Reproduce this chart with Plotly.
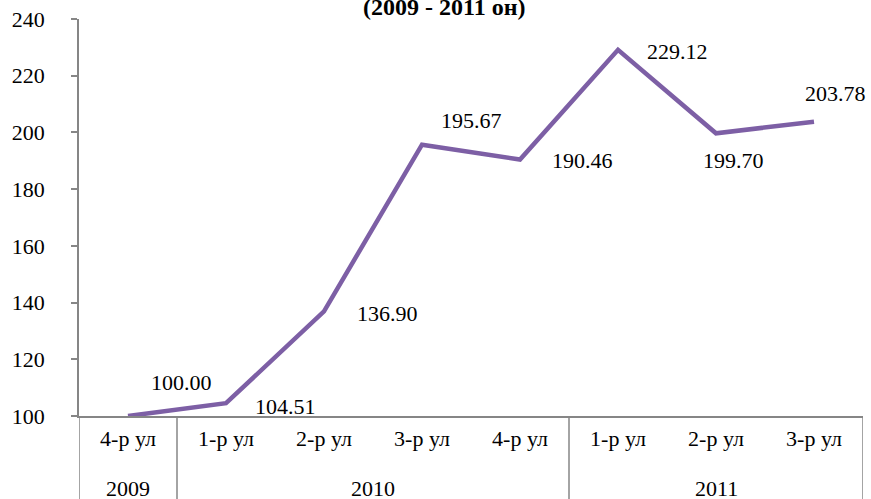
import plotly.graph_objects as go

# data
quarters = ["4-р ул", "1-р ул", "2-р ул", "3-р ул", "4-р ул", "1-р ул", "2-р ул", "3-р ул"]
year_labels = ["2009", "2010", "2011"]
year_counts = [1, 4, 3]
values = [100.00, 104.51, 136.90, 195.67, 190.46, 229.12, 199.70, 203.78]

# label offsets (px) as placed in the original
label_dx = [53, 59, 63, 49, 62, 59, 17, 21]
label_dy = [34, -3, -2, 24, -1, -2, -27, 28]

FONT = '"Liberation Serif", "Times New Roman", serif'
GREY = "#868686"
FS = 22

xs = list(range(len(quarters)))

fig = go.Figure()
fig.add_trace(go.Scatter(
    x=xs, y=values,
    mode="lines",
    line=dict(color="#7D5FA5", width=4.5),
    hoverinfo="y",
))

for i, v, dx, dy in zip(xs, values, label_dx, label_dy):
    fig.add_annotation(
        x=i, y=v, text=f"{v:.2f}", showarrow=False,
        xshift=dx, yshift=dy,
        font=dict(family=FONT, size=FS, color="black"),
    )

# year row and group dividers under the axis
start = 0
bounds = [-0.5]
for yr, n in zip(year_labels, year_counts):
    fig.add_annotation(
        x=start + (n - 1) / 2, y=0, xref="x", yref="paper",
        yanchor="middle", yshift=-72, text=yr, showarrow=False,
        font=dict(family=FONT, size=FS, color="black"),
    )
    start += n
    bounds.append(start - 0.5)

for b in bounds:
    fig.add_shape(
        type="line", xref="x", yref="paper",
        x0=b, x1=b, y0=0, y1=-0.3,
        line=dict(color=GREY, width=1.5),
    )

fig.add_annotation(
    text="<b>(2009 - 2011 он)</b>", xref="paper", yref="paper",
    x=0.465, y=1.0, yanchor="middle", yshift=12, showarrow=False,
    font=dict(family=FONT, size=24, color="black"),
)

fig.update_layout(
    width=871, height=499,
    margin=dict(l=79, r=8, t=19, b=83),
    paper_bgcolor="white", plot_bgcolor="white",
    showlegend=False,
    font=dict(family=FONT, size=FS, color="black"),
)
fig.update_xaxes(
    range=[-0.5, 7.5],
    tickvals=xs, ticktext=quarters,
    showline=True, linecolor=GREY, linewidth=1.5,
    showgrid=False, zeroline=False, ticks="",
    ticklabelstandoff=2,
    tickfont=dict(family=FONT, size=FS, color="black"),
)
fig.update_yaxes(
    range=[100, 240], dtick=20,
    showline=True, linecolor=GREY, linewidth=1.5,
    showgrid=False, zeroline=False,
    ticks="outside", ticklen=6, tickcolor=GREY, tickwidth=1.5,
    ticklabelstandoff=22,
    tickfont=dict(family=FONT, size=FS, color="black"),
)

fig.write_html(
    "out.html",
    config={"displayModeBar": False},
    post_script="document.body.style.margin='0';document.body.style.overflow='hidden';",
)
